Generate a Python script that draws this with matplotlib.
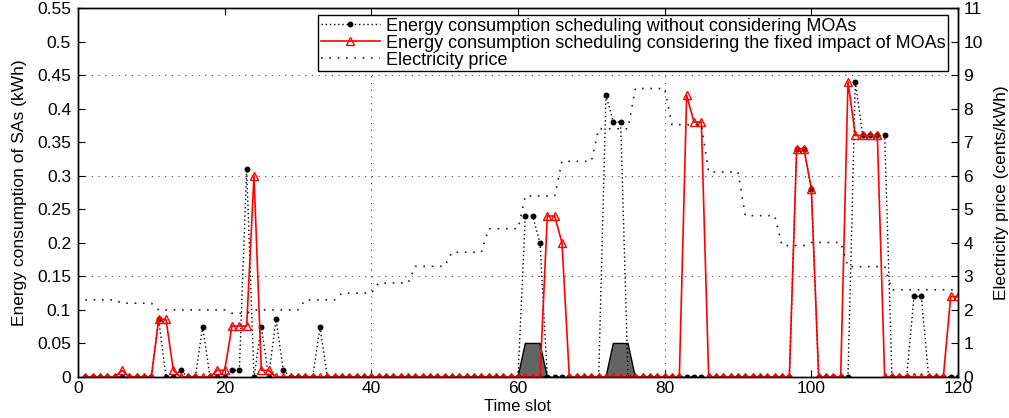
import numpy as np
import matplotlib
matplotlib.use("Agg")
import matplotlib.pyplot as plt
from matplotlib.patches import Polygon

plt.rcParams['font.family'] = ['Liberation Sans', 'DejaVu Sans']

slots = list(range(1, 121))

# Energy consumption without considering MOAs (kWh), nonzero slots
no_moa_nonzero = {11: 0.086, 14: 0.01, 17: 0.075, 21: 0.01, 22: 0.01, 23: 0.31,
                  25: 0.075, 27: 0.086, 28: 0.01, 33: 0.075,
                  61: 0.24, 62: 0.24, 63: 0.20, 72: 0.42, 73: 0.38, 74: 0.38,
                  98: 0.34, 99: 0.34, 100: 0.28, 106: 0.44, 107: 0.36, 108: 0.36,
                  109: 0.36, 110: 0.36, 114: 0.12, 115: 0.12}
# Energy consumption considering fixed impact of MOAs (kWh), nonzero slots
fixed_moa_nonzero = {6: 0.01, 11: 0.086, 12: 0.086, 13: 0.01, 19: 0.01, 20: 0.01,
                     21: 0.076, 22: 0.076, 23: 0.076, 24: 0.30, 25: 0.01, 26: 0.01,
                     64: 0.24, 65: 0.24, 66: 0.20, 83: 0.42, 84: 0.38, 85: 0.38,
                     98: 0.34, 99: 0.34, 100: 0.28, 105: 0.44, 106: 0.36, 107: 0.36,
                     108: 0.36, 109: 0.36, 119: 0.12, 120: 0.12}
no_moa = [no_moa_nonzero.get(s, 0.0) for s in slots]
fixed_moa = [fixed_moa_nonzero.get(s, 0.0) for s in slots]

# Electricity price (cents/kWh), piecewise levels: (first slot, last slot, value)
price_levels = [(1, 5, 2.3), (6, 10, 2.2), (11, 20, 2.0), (21, 23, 1.9), (24, 30, 2.0),
                (31, 35, 2.3), (36, 40, 2.5), (41, 45, 2.8), (46, 50, 3.3),
                (51, 55, 3.72), (56, 60, 4.42), (61, 65, 5.4), (66, 70, 6.43),
                (71, 75, 7.4), (76, 80, 8.6), (81, 85, 7.52), (86, 90, 6.11),
                (91, 95, 4.81), (96, 99, 3.92), (100, 104, 4.01), (105, 110, 3.29),
                (111, 120, 2.6)]
price = []
for a, b, v in price_levels:
    price += [v] * (b - a + 1)

# Fixed MOA periods (trapezoids): (start, top start, top end, end, height)
moa_blocks = [(60, 61, 63, 64, 0.05), (72, 73, 75, 76, 0.05)]

xticks = [0, 20, 40, 60, 80, 100, 120]
yticks_left = [0, 0.05, 0.1, 0.15, 0.2, 0.25, 0.3, 0.35, 0.4, 0.45, 0.5, 0.55]
ylabels_left = ['0', '0.05', '0.1', '0.15', '0.2', '0.25', '0.3', '0.35', '0.4', '0.45', '0.5', '0.55']
yticks_right = list(range(0, 12))

fig = plt.figure(figsize=(10.09, 4.18), dpi=100)
ax = fig.add_axes([78/1009, 41/418, 880/1009, 369/418])
ax.set_xlim(0, 120)
ax.set_ylim(0, 0.55)

# grid lines
for gy in [0.15, 0.30, 0.45]:
    ax.axhline(gy, color='#444444', lw=0.8, ls=(0, (1, 5)), zorder=0.5)
for gx in [40, 80]:
    ax.axvline(gx, color='#444444', lw=0.8, ls=(0, (1, 5)), zorder=0.5)

for a, b, c, d, h in moa_blocks:
    ax.add_patch(Polygon([(a, 0), (b, h), (c, h), (d, 0)], closed=True,
                         facecolor='#646464', edgecolor='black', lw=1, zorder=2))

l1, = ax.plot(slots, no_moa, color='black', ls=(0, (1, 2)), lw=1.0, marker='.',
              markersize=6.5, zorder=3,
              label='Energy consumption scheduling without considering MOAs')
l2, = ax.plot(slots, fixed_moa, color='red', ls='-', lw=1.2, marker='^',
              markersize=6, mfc='none', mec='red', mew=1.0, zorder=4,
              label='Energy consumption scheduling considering the fixed impact of MOAs')

ax.set_xticks(xticks)
ax.set_yticks(yticks_left)
ax.set_yticklabels(ylabels_left)
ax.tick_params(axis='x', direction='in', top=True, bottom=True, length=5, labelsize=12.5, pad=3)
ax.tick_params(axis='y', direction='in', left=True, right=False, length=5, labelsize=12.5, pad=5)
ax.set_xlabel('Time slot', fontsize=12, labelpad=2)
ax.set_ylabel('Energy consumption of SAs (kWh)', fontsize=12.5, labelpad=7)

ax2 = ax.twinx()
ax2.set_ylim(0, 11)
ax2.set_yticks(yticks_right)
ax2.tick_params(axis='y', direction='in', length=5, labelsize=12.5, pad=4)
l3, = ax2.plot(slots, price, color='#222222', ls=(0, (1, 4)), lw=1.2,
               label='Electricity price')
ax2.set_ylabel('Electricity price (cents/kWh)', fontsize=12.5, labelpad=8)

for a_ in (ax, ax2):
    for sp in a_.spines.values():
        sp.set_linewidth(1.0)

leg = ax2.legend(handles=[l1, l2, l3], loc='upper right',
                 bbox_to_anchor=(870/880, (377-15)/369), borderaxespad=0,
                 fontsize=13, frameon=True, fancybox=False, framealpha=1,
                 edgecolor='black', handlelength=3.3, handletextpad=0.3,
                 labelspacing=0.0, borderpad=0.15)
leg.get_frame().set_linewidth(1.0)

fig.savefig('out.png', dpi=100)
